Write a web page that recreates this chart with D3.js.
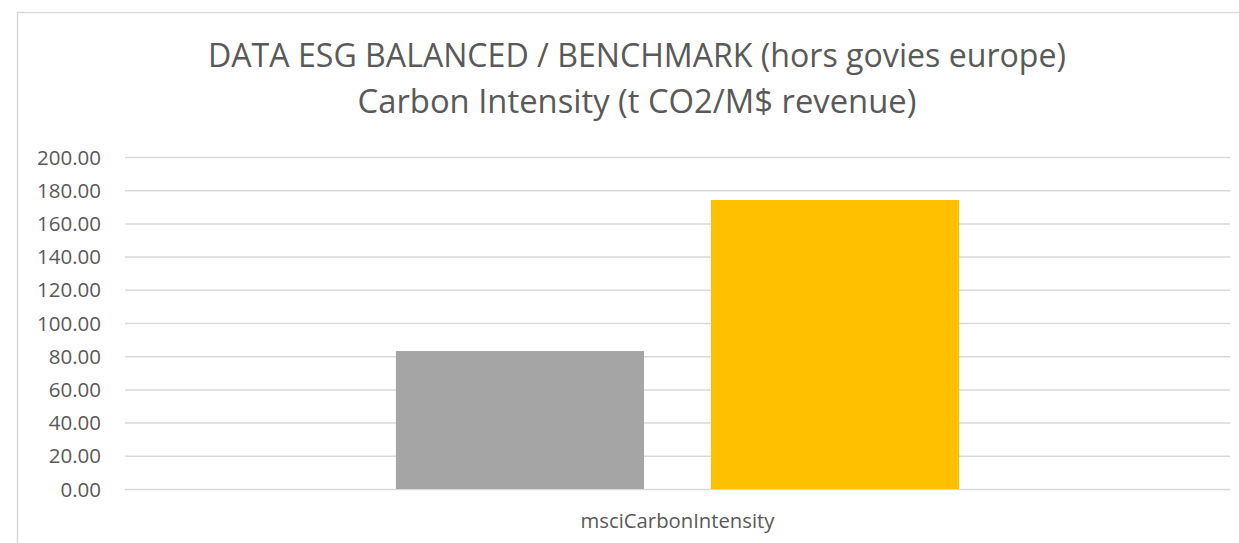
<!DOCTYPE html>
<html>
<head>
<meta charset="utf-8">
<script src="https://cdn.jsdelivr.net/npm/d3@7"></script>
<style>
  html, body { margin: 0; padding: 0; background: #fff; }
  svg { display: block; }
  text { font-family: "Open Sans", "Noto Sans", "Liberation Sans", sans-serif; fill: #595959; }
</style>
</head>
<body>
<svg id="chart" width="1239" height="543"></svg>
<script>
const titleLines = ["DATA ESG BALANCED / BENCHMARK (hors govies europe)", "Carbon Intensity (t CO2/M$ revenue)"];
const categories = ["msciCarbonIntensity"];
const seriesNames = ["Fund", "Benchmark"];
const seriesValues = [83.1, 174.1];
const seriesColors = ["#A5A5A5", "#FFC000"];
const yTicks = [0, 20, 40, 60, 80, 100, 120, 140, 160, 180, 200];

const svg = d3.select("#chart");
const W = 1239, H = 543;
const plot = { left: 125, right: 1230, top: 157, bottom: 489 };

// chart border
svg.append("rect").attr("x", 17.5).attr("y", 12.5).attr("width", W).attr("height", H)
  .attr("fill", "none").attr("stroke", "#D9D9D9").attr("stroke-width", 1.5);

const y = d3.scaleLinear().domain([0, 200]).range([plot.bottom, plot.top]);
const x0 = d3.scaleBand().domain(categories).range([plot.left, plot.right]).paddingInner(0).paddingOuter(0.481);
const x1 = d3.scaleBand().domain(seriesNames).range([0, x0.bandwidth()]).paddingInner(0.2127).paddingOuter(0);

function fitWidth(sel, target, base) {
  sel.attr("font-size", base);
  const w = sel.node().getComputedTextLength();
  sel.attr("font-size", base * target / w);
}

// gridlines + y tick labels
const yAxis = d3.axisLeft(y).tickValues(yTicks).tickSize(-(plot.right - plot.left)).tickPadding(24)
  .tickFormat(d3.format(".2f"));
const gy = svg.append("g").attr("transform", `translate(${plot.left},0)`).call(yAxis);
gy.select(".domain").remove();
gy.selectAll(".tick line").attr("stroke", "#D9D9D9").attr("stroke-width", 1.5);
gy.selectAll(".tick text").attr("fill", "#595959").attr("font-family", null)
  .attr("x", 101 - plot.left).attr("dy", "0.35em").style("font-size", "20.5px");

// bars
const groups = svg.append("g").selectAll("g").data(categories).join("g")
  .attr("transform", d => `translate(${x0(d)},0)`);
groups.selectAll("rect").data(seriesNames.map((s, i) => ({ s, v: seriesValues[i], c: seriesColors[i] })))
  .join("rect")
  .attr("x", d => x1(d.s)).attr("width", x1.bandwidth())
  .attr("y", d => y(d.v)).attr("height", d => y(0) - y(d.v))
  .attr("fill", d => d.c);

// x axis labels
const xAxis = d3.axisBottom(x0).tickSize(0).tickPadding(0);
const gx = svg.append("g").attr("transform", `translate(0,${plot.bottom})`).call(xAxis);
gx.select(".domain").remove();
gx.selectAll(".tick text").attr("fill", "#595959").attr("font-family", null)
  .attr("y", 39).attr("dy", 0);
gx.selectAll(".tick text").each(function () { fitWidth(d3.select(this), 194, 20); });

// titles
const centerX = 637;
const t1 = svg.append("text").attr("x", centerX).attr("y", 67).attr("text-anchor", "middle").text(titleLines[0]);
fitWidth(t1, 858, 30);
const t2 = svg.append("text").attr("x", centerX).attr("y", 113).attr("text-anchor", "middle").text(titleLines[1]);
fitWidth(t2, 559, 30);
</script>
</body>
</html>
